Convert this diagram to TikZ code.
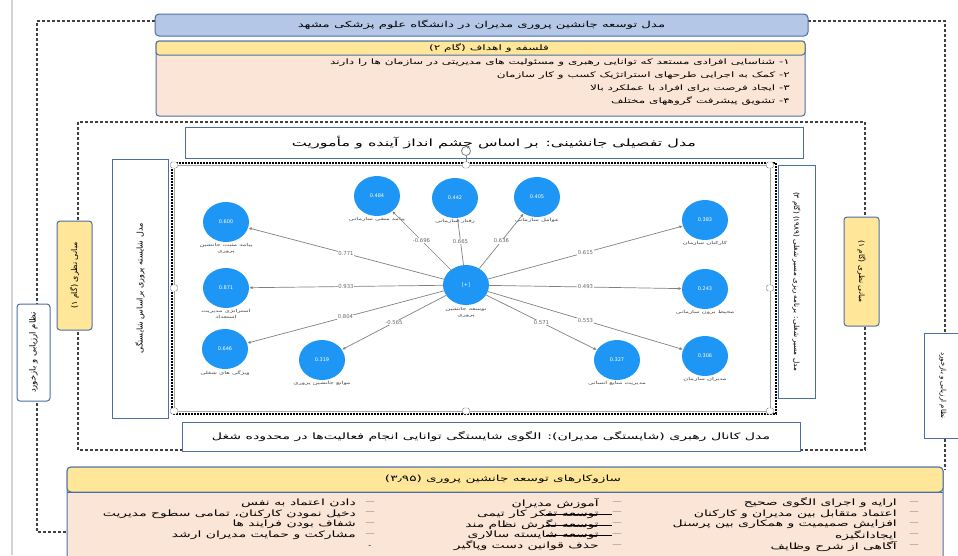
\documentclass[tikz,border=0pt]{standalone}
\usepackage{fontspec}
\usepackage{tikz}
\TeXXeTstate=1
\newfontfamily\arabicfont[Script=Arabic]{DejaVu Sans}
\newfontfamily\arabicwide[Script=Arabic, FakeStretch=1.6]{DejaVu Sans}
\newfontfamily\numfont{DejaVu Sans}
\usetikzlibrary{shapes.geometric, arrows.meta, positioning, calc}

\definecolor{bdrblue}{HTML}{4A6FA5}
\definecolor{titleblue}{HTML}{B4C7E7}
\definecolor{hdryellow}{HTML}{FFE699}
\definecolor{bodypeach}{HTML}{FBE5D6}
\definecolor{lvblue}{HTML}{1E96F5}

\newcommand{\fa}[1]{\beginR #1\endR}

\tikzset{
  frameline/.style={draw=black!75, line width=1.1pt, dash pattern=on 3pt off 2pt},
  bluebox/.style={draw=bdrblue, line width=1pt, fill=white, inner sep=0pt, font=\arabicfont\fontsize{7}{8}\selectfont},
  notebox/.style={bluebox, fill=hdryellow, rounded corners=3pt},
  lv/.style={ellipse, fill=lvblue, minimum width=46pt, minimum height=40pt, inner sep=0pt, text=white, font=\numfont\fontsize{5}{6}\selectfont},
  lvtxt/.style={font=\arabicwide\fontsize{4.2}{5.5}\selectfont, text=black!75, align=center, inner sep=1pt},
  edgeline/.style={draw=gray, line width=0.7pt, -{Latex[length=3.5pt,width=3pt]}},
  coef/.style={fill=white, inner sep=0.5pt, font=\numfont\fontsize{5.3}{6}\selectfont, text=black!60},
  handle/.style={draw=gray, fill=white, rounded corners=1.5pt, minimum width=7pt, minimum height=6pt, inner sep=0pt},
  itemtxt/.style={anchor=east, inner sep=0pt, font=\arabicwide\fontsize{8.7}{9}\selectfont},
  goaltxt/.style={anchor=east, inner sep=0pt, font=\arabicwide\fontsize{7.5}{8}\selectfont},
}

\begin{document}
\begin{tikzpicture}[x=1pt,y=-1pt]
\useasboundingbox (0,0) rectangle (958,555);
\draw[gray!35, line width=1.5pt] (12,0) -- (12,555);

% outer frame
\coordinate (otl) at (37,21);
\coordinate (otr) at (945,21);
\coordinate (obl) at (37,532);
\draw[frameline] (155,21) -- (otl) -- (obl) -- (67,532);
\draw[frameline] (808,21) -- (otr) -- (945,470);
% inner frame
\draw[frameline] (78,122) rectangle (865,450);

% top boxes
\node[bluebox, fill=titleblue, rounded corners=4pt, minimum width=653pt, minimum height=22pt, font=\arabicwide\fontsize{8.3}{9}\selectfont] (title) at (481.5,25) {\fa{مدل توسعه جانشین پروری مدیران در دانشگاه علوم پزشکی مشهد}};
\draw[bluebox, fill=bodypeach, rounded corners=3pt] (156,41) rectangle (805,116);
\draw[bluebox, fill=hdryellow, rounded corners=3pt] (156,55) -- (156,41) -- (805,41) -- (805,55) -- cycle;
\node[font=\arabicwide\fontsize{7.6}{8}\selectfont, inner sep=0pt] (goalshdr) at (489,48) {\fa{فلسفه و اهداف (گام ۲)}};
\node[goaltxt] (goal1) at (790,63) {\fa{۱- شناسایی افرادی مستعد که توانایی رهبری و مسئولیت های مدیریتی در سازمان ها را دارند}};
\node[goaltxt] (goal2) at (790,76) {\fa{۲- کمک به اجرایی طرحهای استراتژیک کسب و کار سازمان}};
\node[goaltxt] (goal3) at (790,89) {\fa{۳- ایجاد فرصت برای افراد با عملکرد بالا}};
\node[goaltxt] (goal4) at (790,101) {\fa{۴- تشویق پیشرفت گروههای مختلف}};

% side boxes
\node[bluebox, rounded corners=3pt, rotate=90, minimum width=97pt, minimum height=33pt, font=\arabicfont\fontsize{8.5}{9}\selectfont] (evalL) at (33.5,352.5) {\fa{نظام ارزیابی و بازخورد}};
\node[notebox, rotate=90, minimum width=109pt, minimum height=35pt, font=\arabicfont\fontsize{8}{9}\selectfont] (baseL) at (74.5,275.5) {\fa{مبانی نظری (گام ۱)}};
\node[bluebox, rotate=90, minimum width=259pt, minimum height=56pt, font=\arabicfont\fontsize{8}{9}\selectfont] (compmodel) at (140,288.5) {\fa{مدل شایسته پروری براساس شایستگی}};
\node[notebox, rotate=-90, minimum width=109pt, minimum height=35pt, font=\arabicfont\fontsize{7.5}{9}\selectfont] (baseR) at (861.5,271.5) {\fa{مبانی نظری (گام ۱)}};
\node[bluebox, rotate=-90, minimum width=105pt, minimum height=38pt] (evalR) at (943,385.5) {\fa{نظام ارزیابی و بازخورد}};

% model boxes
\node[bluebox, minimum width=618pt, minimum height=31pt, font=\arabicwide\fontsize{10}{11}\selectfont] (detail) at (494,142.5) {\fa{مدل تفصیلی جانشینی: بر اساس چشم انداز آینده و مأموریت}};
\node[bluebox, minimum width=618pt, minimum height=29pt, font=\arabicwide\fontsize{8.8}{9}\selectfont] (pipeline) at (491,436.5) {\fa{مدل کانال رهبری (شایستگی مدیران): الگوی شایستگی توانایی انجام فعالیت‌ها در محدوده شغل}};

% picture frame
\draw[draw=black, line width=1.6pt, dash pattern=on 2pt off 1pt] (172,163) rectangle (776,414);
\draw[gray!70, line width=0.6pt] (174,165) rectangle (770,411);
\draw[gray, line width=0.6pt] (466,163) -- (466,156);
\node[circle, draw=gray, line width=0.8pt, minimum size=9pt, inner sep=0pt] (rot) at (466,151) {};
\foreach \hx/\hy in {174/165, 466/165, 770/165, 174/288, 770/288, 174/411, 466/411, 770/411}
  \node[handle] at (\hx,\hy) {};
\node[bluebox, rotate=-90, minimum width=233pt, minimum height=37pt, font=\arabicfont\fontsize{7.2}{8}\selectfont] (career) at (796.5,281.5) {\fa{مدل مسیر شغلی: برنامه ریزی مسیر شغلی (۱۹۸۹) (گام ۳)}};

% latent variables
\node[lv] (ctr) at (466,285) {[+]};
\node[lvtxt, below=1pt of ctr] (ctrtxt) {\beginR توسعه جانشین\endR\\\beginR پروری\endR};
\foreach \nm/\px/\py/\val/\txt in {
    n600/226/222/0.600/{\fa{پیامد مثبت جانشین}\\\fa{پروری}},
    n871/226/288/0.871/{\fa{استراتژی مدیریت}\\\fa{استعداد}},
    n646/225/349/0.646/{\fa{ویژگی های شغلی}},
    n319/322/360/0.319/{\fa{موانع جانشین پروری}},
    n484/377/196/0.484/{\fa{پیامد منفی سازمانی}},
    n442/455/198/0.442/{\fa{رفتار سازمانی}},
    n405/537/197/0.405/{\fa{عوامل سازمانی}},
    n383/705/220/0.383/{\fa{کارکنان سازمان}},
    n243/705/289/0.243/{\fa{محیط برون سازمانی}},
    n306/705/356/0.306/{\fa{مدیران سازمان}},
    n327/617/360/0.327/{\fa{مدیریت منابع انسانی}}}
  \node[lv, label={[lvtxt]below:{\txt}}] (\nm) at (\px,\py) {\val};
\foreach \nm/\val in {n600/0.771, n484/-0.696, n442/0.665, n405/0.636, n383/0.615,
    n871/0.933, n243/0.493, n646/0.804, n319/-0.565, n327/0.571, n306/0.553}
  \draw[edgeline] (ctr) -- (\nm) node[coef, pos=0.5] {\val};

% mechanisms
\draw[bluebox, fill=bodypeach, rounded corners=4pt] (67,560) -- (67,467) -- (943,467) -- (943,560);
\draw[bluebox, fill=hdryellow, rounded corners=4pt] (67,492) -- (67,467) -- (943,467) -- (943,492) -- cycle;
\draw[bdrblue, line width=1pt] (67,492) -- (943,492);
\node[font=\arabicwide\fontsize{8.5}{9}\selectfont, inner sep=0pt] (mechhdr) at (503,479) {\fa{سازوکارهای توسعه جانشین پروری (۳٫۹۵)}};
\foreach \i/\txt in {0/{ارایه و اجرای الگوی صحیح}, 1/{اعتماد متقابل بین مدیران و کارکنان}, 2/{افزایش صمیمیت و همکاری بین پرسنل}, 3/{ایجادانگیزه}, 4/{آگاهی از شرح وظایف}} {
  \node[itemtxt] at (897,503+10.75*\i) {\fa{\txt}};
  \node[inner sep=0pt, font=\fontsize{8}{9}\selectfont] at (914,503+10.75*\i) {---};
}
\foreach \i/\txt in {0/{آموزش مدیران}, 1/{توسعه تفکر کار تیمی}, 2/{توسعه نگرش نظام مند}, 3/{توسعه شایسته سالاری}, 4/{حذف قوانین دست وپاگیر}} {
  \node[itemtxt] at (599,503+10.75*\i) {\fa{\txt}};
  \node[inner sep=0pt, font=\fontsize{8}{9}\selectfont] at (617,503+10.75*\i) {---};
}
\foreach \i in {1,2,3}
  \draw[black, line width=0.6pt] (546,503.5+10.75*\i) -- (612,503.5+10.75*\i);
\foreach \i/\txt in {0/{دادن اعتماد به نفس}, 1/{دخیل نمودن کارکنان، تمامی سطوح مدیریت}, 2/{شفاف بودن فرایند ها}, 3/{مشارکت و حمایت مدیران ارشد}} {
  \node[itemtxt] at (356,503+10.75*\i) {\fa{\txt}};
  \node[inner sep=0pt, font=\fontsize{8}{9}\selectfont] at (370,503+10.75*\i) {---};
}
\node[inner sep=0pt, font=\fontsize{8}{9}\selectfont] at (370,546) {-};
\end{tikzpicture}
\end{document}
